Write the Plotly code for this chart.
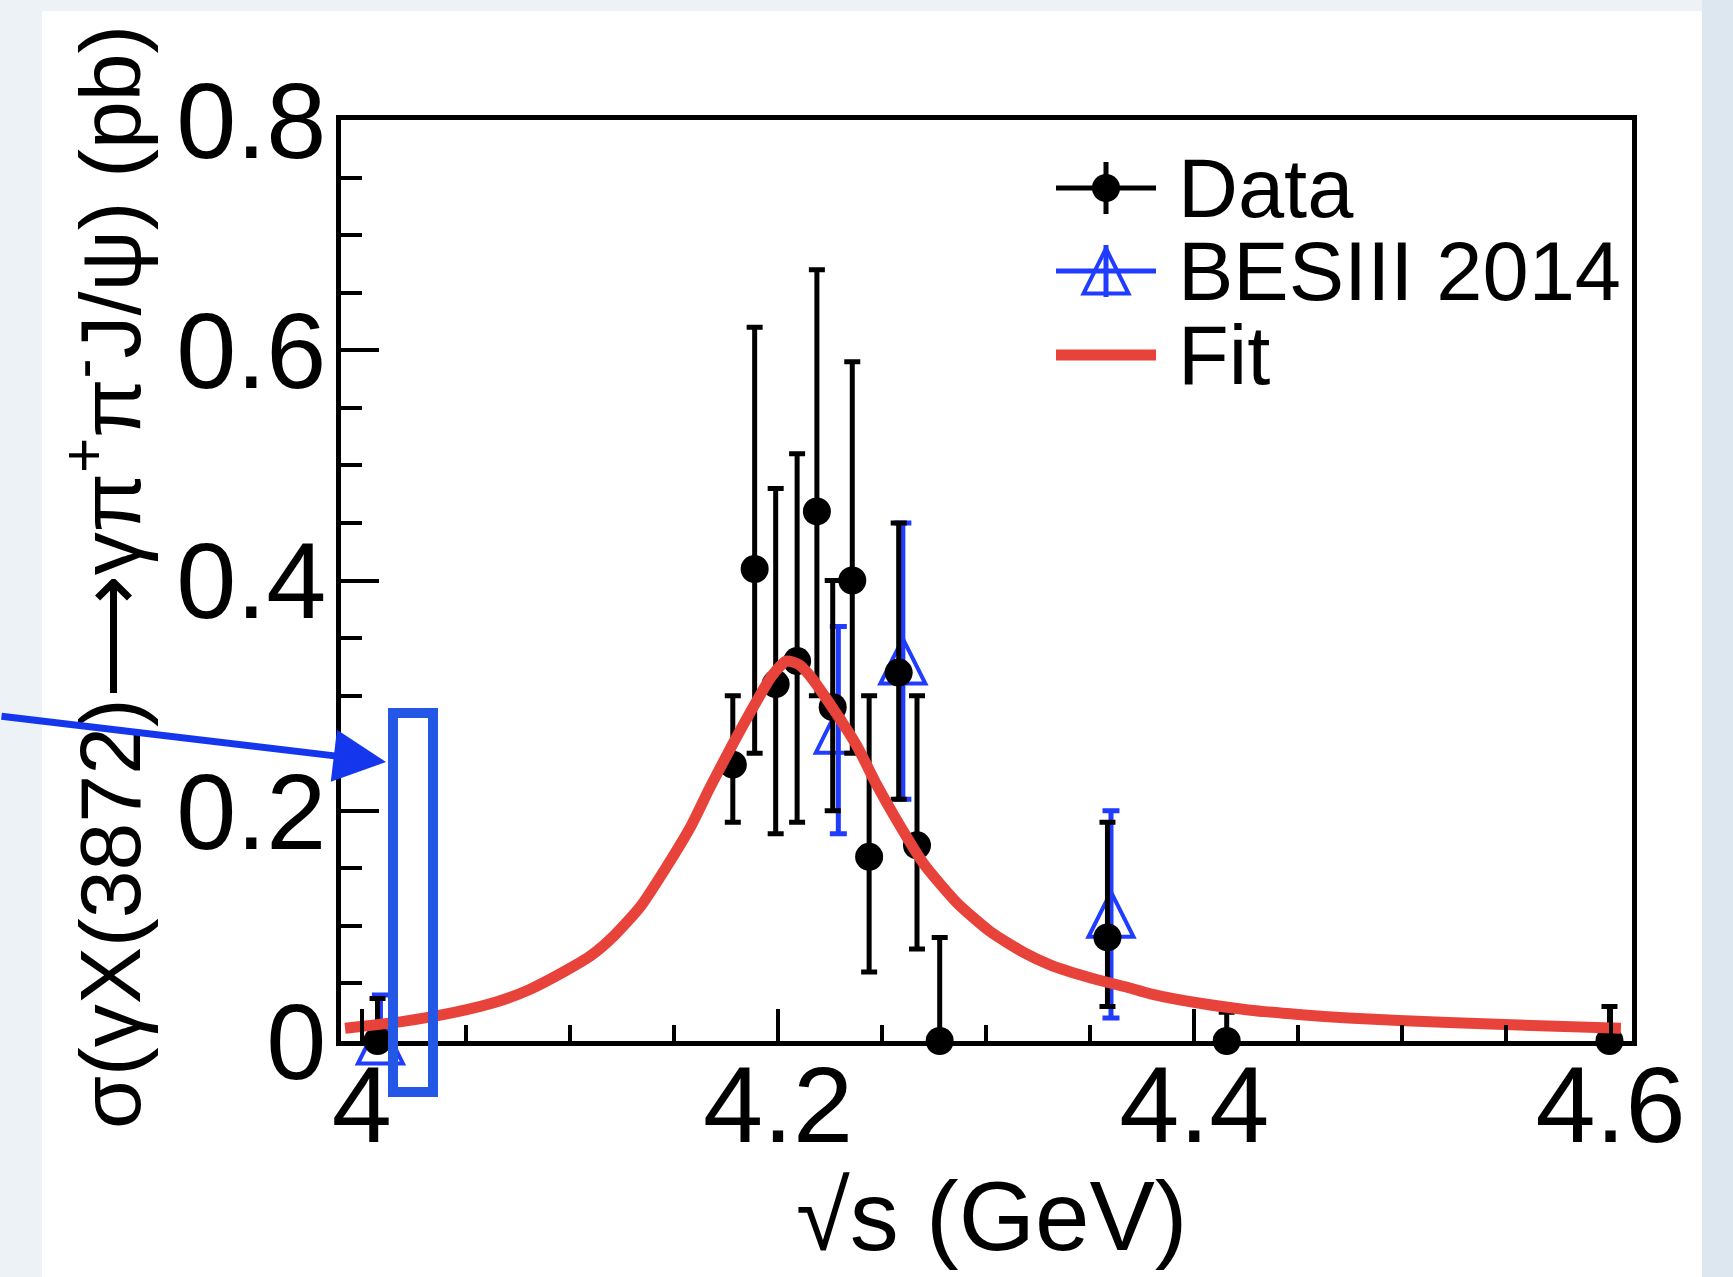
import plotly.graph_objects as go

# ---------------------------------------------------------------- page geometry
W, H = 1733, 1277
L, R, T, B = 341, 101, 120, 236
PW, PH = W - L - R, H - T - B


def fx(px):
    """page pixel column -> paper x"""
    return (px - L) / PW


def fy(py):
    """page pixel row -> paper y"""
    return (H - B - py) / PH


FONT = "Liberation Sans"
BLUE = "#1f3cff"
RED = "#e8433b"

# ---------------------------------------------------------------- data
# Data: sqrt(s) (GeV), cross section (pb), asymmetric errors
energy_data = [4.0076, 4.1783, 4.1888, 4.1989, 4.2092, 4.2187, 4.2263, 4.2357,
               4.2438, 4.2580, 4.2668, 4.2777, 4.3583, 4.4156, 4.5995]
xsec_data = [0.0, 0.24, 0.41, 0.31, 0.33, 0.46, 0.29, 0.40,
             0.16, 0.32, 0.17, 0.0, 0.09, 0.0, 0.0]
err_up_data = [0.037, 0.06, 0.21, 0.17, 0.18, 0.21, 0.11, 0.19,
               0.14, 0.13, 0.13, 0.09, 0.10, 0.025, 0.03]
err_down_data = [0.0, 0.05, 0.16, 0.13, 0.14, 0.16, 0.09, 0.15,
                 0.10, 0.11, 0.09, 0.0, 0.06, 0.0, 0.0]

# BESIII 2014
energy_bes = [4.009, 4.229, 4.260, 4.360]
xsec_bes = [0.0, 0.27, 0.33, 0.11]
err_up_bes = [0.04, 0.09, 0.12, 0.09]
err_down_bes = [0.0, 0.09, 0.12, 0.09]

# Fit curve
fit_energy = [3.992, 4.020, 4.045, 4.065, 4.081, 4.097, 4.110, 4.121, 4.134,
              4.146, 4.158, 4.167, 4.178, 4.190, 4.197, 4.204, 4.210, 4.215,
              4.226, 4.238, 4.247, 4.257, 4.270, 4.286, 4.302, 4.318, 4.331,
              4.350, 4.369, 4.379, 4.402, 4.426, 4.450, 4.474, 4.522, 4.570,
              4.605]
fit_xsec = [0.011, 0.017, 0.025, 0.034, 0.045, 0.060, 0.074, 0.091, 0.117,
            0.150, 0.186, 0.219, 0.257, 0.296, 0.317, 0.330, 0.327, 0.318,
            0.290, 0.256, 0.224, 0.192, 0.154, 0.120, 0.095, 0.077, 0.066,
            0.055, 0.046, 0.041, 0.033, 0.027, 0.023, 0.020, 0.016, 0.013,
            0.011]

x_range = [3.99006, 4.61032]
y_range = [0.0, 0.8]

# ---------------------------------------------------------------- markers
circle_marker = dict(symbol="circle", size=28, color="black")
# upright open triangle centred on its point (arrow-down flipped, shifted half its height)
TRI = 45
triangle_marker = dict(symbol="arrow-down-open", angle=180, standoff=TRI / 2,
                       size=TRI, color=BLUE, line=dict(color=BLUE, width=4))

fig = go.Figure()

fig.add_trace(go.Scatter(
    x=energy_bes, y=xsec_bes, mode="markers", marker=triangle_marker,
    error_y=dict(type="data", array=err_up_bes, arrayminus=err_down_bes,
                 color=BLUE, thickness=5, width=8.5),
    cliponaxis=False, showlegend=False, name="BESIII 2014"))

fig.add_trace(go.Scatter(
    x=energy_data, y=xsec_data, mode="markers", marker=circle_marker,
    error_y=dict(type="data", array=err_up_data, arrayminus=err_down_data,
                 color="black", thickness=5, width=8),
    cliponaxis=False, showlegend=False, name="Data"))

fig.add_trace(go.Scatter(
    x=fit_energy, y=fit_xsec, mode="lines",
    line=dict(color=RED, width=11, shape="spline", smoothing=0.6),
    showlegend=False, name="Fit"))

# ---------------------------------------------------------------- legend (page-pixel overlay axes)
leg_x0, leg_x1 = 1056, 1156
leg_xc = (leg_x0 + leg_x1) / 2
leg_rows = {"Data": 188, "BESIII 2014": 271, "Fit": 355}
leg_text_x = 1176
leg_bar = 26


def leg_line(xs, ys, color, width):
    fig.add_trace(go.Scatter(x=xs, y=ys, mode="lines", xaxis="x2", yaxis="y2",
                             line=dict(color=color, width=width),
                             showlegend=False, hoverinfo="skip"))


yr = leg_rows["Data"]
leg_line([leg_x0, leg_x1], [yr, yr], "black", 5)
leg_line([leg_xc, leg_xc], [yr - leg_bar, yr + leg_bar], "black", 5)
fig.add_trace(go.Scatter(x=[leg_xc], y=[yr], mode="markers", xaxis="x2", yaxis="y2",
                         marker=circle_marker, showlegend=False, hoverinfo="skip"))

yr = leg_rows["BESIII 2014"]
leg_line([leg_x0, leg_x1], [yr, yr], BLUE, 5)
leg_line([leg_xc, leg_xc], [yr - leg_bar, yr + leg_bar], BLUE, 5)
fig.add_trace(go.Scatter(x=[leg_xc], y=[yr], mode="markers", xaxis="x2", yaxis="y2",
                         marker=triangle_marker, showlegend=False, hoverinfo="skip"))

yr = leg_rows["Fit"]
leg_line([leg_x0, leg_x1], [yr, yr], RED, 11)

annotations = []
for label, row in leg_rows.items():
    annotations.append(dict(text=label, x=fx(leg_text_x), y=fy(row),
                            xref="paper", yref="paper", xanchor="left", yanchor="middle",
                            showarrow=False, font=dict(family=FONT, size=83, color="black")))

# axis titles
annotations.append(dict(
    text="σ(γX(3872)⟶γπ<sup>+</sup>π<sup>-</sup>J/ψ) (pb)",
    x=fx(104), y=fy(577), xref="paper", yref="paper", textangle=-90,
    xanchor="center", yanchor="middle", showarrow=False,
    font=dict(family=FONT, size=86, color="black")))
annotations.append(dict(
    text="√s (GeV)",
    x=fx(991), y=fy(1216), xref="paper", yref="paper",
    xanchor="center", yanchor="middle", showarrow=False,
    font=dict(family=FONT, size=98, color="black")))

# highlight arrow
annotations.append(dict(
    text="", x=fx(386), y=fy(762), xref="paper", yref="paper",
    ax=-386, ay=-46, axref="pixel", ayref="pixel",
    showarrow=True, arrowhead=2, arrowsize=1.5, arrowwidth=7, arrowcolor="#1437ee"))

shapes = [
    # page panel
    dict(type="rect", xref="paper", yref="paper", layer="below",
         x0=fx(42), x1=fx(1702), y0=fy(H + 5), y1=fy(11),
         fillcolor="white", line=dict(width=0)),
    dict(type="rect", xref="paper", yref="paper", layer="below",
         x0=fx(1702), x1=fx(W + 5), y0=fy(H + 5), y1=fy(-5),
         fillcolor="#dde7ef", line=dict(width=0)),
    # highlight box
    dict(type="rect", xref="paper", yref="paper", layer="above",
         x0=fx(393), x1=fx(433), y0=fy(1092), y1=fy(713),
         line=dict(color="#2557e6", width=10), fillcolor="rgba(0,0,0,0)"),
]

axis_common = dict(
    ticks="inside", tickwidth=4, tickcolor="black",
    showline=True, linewidth=5, linecolor="black", mirror=True,
    showgrid=False, zeroline=False,
    tickfont=dict(family=FONT, size=108, color="black"),
)

fig.update_layout(
    width=W, height=H,
    margin=dict(l=L, r=R, t=T, b=B, pad=0),
    paper_bgcolor="#edf2f6", plot_bgcolor="white",
    xaxis=dict(range=x_range, tickmode="linear", tick0=4, dtick=0.2,
               ticklen=32, ticklabelstandoff=-34,
               minor=dict(ticks="inside", ticklen=16, tickwidth=4, tickcolor="black",
                          tick0=4, dtick=0.05, showgrid=False),
               **axis_common),
    yaxis=dict(range=y_range, tickmode="linear", tick0=0, dtick=0.2,
               ticklen=38, ticklabelstandoff=-12,
               minor=dict(ticks="inside", ticklen=21, tickwidth=4, tickcolor="black",
                          tick0=0, dtick=0.05, showgrid=False),
               **axis_common),
    xaxis2=dict(overlaying="x", range=[L, W - R], visible=False, fixedrange=True),
    yaxis2=dict(overlaying="y", range=[H - B, T], visible=False, fixedrange=True),
    annotations=annotations,
    shapes=shapes,
    showlegend=False,
)

fig.write_html("out.html")
